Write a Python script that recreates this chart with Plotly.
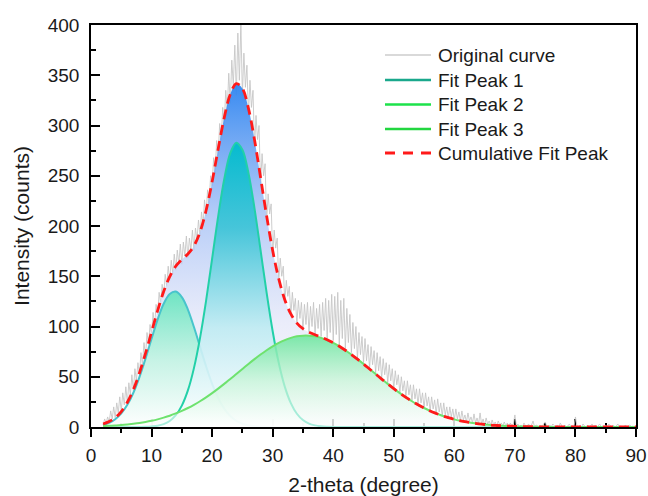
import plotly.graph_objects as go

# ---------------- data ----------------
fit_x = list(range(2, 91))  # 2-theta, degrees, 1-degree steps

peak1 = [0, 0, 0, 0, 0, 0, 0.1, 0.2, 0.6, 1.3, 2.9, 6.0, 11.7, 21.3, 36.4, 58.6, 88.5,
         125.5, 167.4, 209.6, 246.5, 272.5, 282.9, 275.9, 252.8, 217.6, 175.9, 133.7,
         95.3, 63.9, 40.2, 23.8, 13.2, 6.9, 3.4, 1.6, 0.7, 0.3, 0.1] + [0] * 50

peak2 = [2.1, 4.2, 7.7, 13.5, 22.1, 34.1, 49.7, 68.0, 87.8, 106.9, 122.6, 132.4, 134.8,
         129.3, 116.9, 99.5, 79.9, 60.4, 43.0, 28.9, 18.3, 10.9, 6.1, 3.2, 1.6, 0.8,
         0.3, 0.1] + [0] * 61

peak3 = [0.9, 1.2, 1.5, 1.9, 2.5, 3.2, 4.0, 5.0, 6.2, 7.6, 9.3, 11.2, 13.5, 16.0, 18.9,
         22.1, 25.6, 29.5, 33.7, 38.2, 42.9, 47.7, 52.7, 57.7, 62.7, 67.5, 72.1, 76.4,
         80.3, 83.7, 86.5, 88.7, 90.2, 90.9, 90.9, 90.2, 88.7, 86.5, 83.7, 80.3, 76.4,
         72.1, 67.5, 62.7, 57.7, 52.7, 47.7, 42.9, 38.2, 33.7, 29.5, 25.6, 22.1, 18.9,
         16.0, 13.5, 11.2, 9.3, 7.6, 6.2, 5.0, 4.0, 3.2, 2.5, 1.9, 1.5, 1.2, 0.9, 0.7,
         0.5, 0.4, 0.3, 0.2, 0.2, 0.1, 0.1, 0.1, 0.1, 0.1, 0, 0, 0, 0, 0, 0, 0, 0, 0, 0]

cumulative = [3.0, 5.4, 9.2, 15.4, 24.6, 37.3, 53.8, 73.2, 94.6, 115.8, 134.8, 149.6,
              160.0, 166.6, 172.2, 180.2, 194.0, 215.4, 244.1, 276.7, 307.7, 331.1,
              341.7, 336.8, 317.1, 285.9, 248.3, 210.2, 175.6, 147.6, 126.7, 112.5,
              103.4, 97.8, 94.3, 91.8, 89.4, 86.8, 83.8, 80.3, 76.4, 72.1, 67.5, 62.7,
              57.7, 52.7, 47.7, 42.9, 38.2, 33.7, 29.5, 25.6, 22.1, 18.9, 16.0, 13.5,
              11.2, 9.3, 7.6, 6.2, 5.0, 4.0, 3.2, 2.5, 1.9, 1.5, 1.2, 0.9, 0.7, 0.5,
              0.4, 0.3, 0.2, 0.2, 0.1, 0.1, 0.1, 0.1, 0.1, 0, 0, 0, 0, 0, 0, 0, 0, 0, 0]

# original (noisy) curve, 0.25-degree steps from 2 to 90
orig_x = [2 + 0.25 * i for i in range(353)]
orig_y = [2, 8, 4, 10, 5, 16, 8, 20, 9, 24, 14, 30, 16, 34, 22, 40,
          24, 44, 32, 52, 36, 58, 46, 64, 52, 74, 62, 84, 70, 94, 82, 102,
          92, 114, 100, 122, 112, 134, 122, 142, 130, 152, 140, 160, 146, 166, 152, 172,
          156, 176, 162, 182, 162, 184, 170, 190, 168, 188, 176, 196, 176, 198, 186, 206,
          190, 214, 200, 226, 210, 236, 222, 250, 240, 268, 252, 285, 270, 302, 285, 318,
          300, 335, 315, 352, 322, 365, 340, 380, 330, 392, 345, 402, 330, 372, 338, 360,
          310, 345, 318, 335, 278, 310, 286, 300, 240, 272, 250, 262, 204, 232, 212, 222,
          170, 196, 178, 188, 144, 168, 150, 160, 124, 146, 130, 140, 110, 134, 116, 128,
          102, 126, 108, 124, 96, 122, 102, 124, 94, 120, 100, 124, 92, 118, 98, 122,
          90, 124, 96, 128, 88, 126, 94, 132, 86, 130, 92, 134, 82, 126, 88, 128,
          78, 118, 84, 112, 74, 104, 78, 100, 68, 94, 72, 90, 64, 88, 66, 82,
          58, 80, 62, 76, 54, 74, 56, 70, 48, 68, 52, 64, 44, 62, 46, 58,
          38, 56, 42, 52, 34, 50, 36, 46, 30, 46, 32, 42, 26, 42, 28, 38,
          22, 38, 24, 34, 19, 34, 21, 30, 16, 30, 18, 27, 13, 28, 15, 24,
          11, 24, 12, 20, 9, 20, 10, 18, 7, 18, 8, 15, 6, 16, 7, 12,
          5, 14, 6, 10, 4, 13, 4, 9, 3, 14, 3, 8, 2, 9, 3, 6,
          2, 7, 2, 5, 1, 6, 2, 4, 1, 5, 1, 4, 1, 4, 1, 3,
          12, 1, 3, 0, 2, 0, 4, 1, 0, 3, 1, 2, 6, 0, 2, 1,
          0, 2, 0, 3, 5, 1, 0, 2, 0, 3, 1, 0, 2, 0, 4, 1,
          0, 2, 0, 1, 3, 0, 2, 0, 10, 1, 0, 2, 0, 3, 1, 0,
          2, 0, 1, 3, 0, 2, 0, 1, 3, 0, 1, 0, 2, 0, 3, 1,
          0, 2, 0, 1, 3, 0, 1, 0, 0, 2, 0, 1, 2, 0, 1, 0,
          0]

legend_names = ["Original curve", "Fit Peak 1", "Fit Peak 2", "Fit Peak 3",
                "Cumulative Fit Peak"]
x_ticks = list(range(0, 91, 10))
y_ticks = list(range(0, 401, 50))

FONT = "Liberation Sans, Arial, sans-serif"
TXT = "#1a1a1a"

fig = go.Figure()

# original noisy curve
fig.add_trace(go.Scatter(x=orig_x, y=orig_y, mode="lines",
                         line=dict(color="rgba(196,196,196,0.85)", width=1),
                         showlegend=False, hoverinfo="skip"))

# cumulative fill (background)
fig.add_trace(go.Scatter(x=fit_x, y=cumulative, mode="none", fill="tozeroy",
                         line_shape="spline",
                         fillgradient=dict(type="vertical", start=0, stop=342,
                                           colorscale=[[0, "rgba(246,246,250,0.55)"],
                                                       [0.3, "rgba(226,229,248,0.7)"],
                                                       [0.6, "rgba(170,196,246,0.82)"],
                                                       [1, "rgba(45,132,240,0.95)"]]),
                         showlegend=False, hoverinfo="skip"))

# peak 2
fig.add_trace(go.Scatter(x=fit_x, y=peak2, mode="lines", fill="tozeroy",
                         line=dict(color="#48c4cc", width=2, shape="spline"),
                         fillgradient=dict(type="vertical", start=0, stop=135,
                                           colorscale=[[0, "rgba(255,255,255,0.85)"],
                                                       [0.5, "rgba(190,243,225,0.85)"],
                                                       [1, "rgba(100,228,190,0.92)"]]),
                         showlegend=False, hoverinfo="skip"))

# peak 1
fig.add_trace(go.Scatter(x=fit_x, y=peak1, mode="lines", fill="tozeroy",
                         line=dict(color="#22d0a8", width=2, shape="spline"),
                         fillgradient=dict(type="vertical", start=0, stop=283,
                                           colorscale=[[0, "rgba(255,255,255,0.9)"],
                                                       [0.35, "rgba(190,235,242,0.9)"],
                                                       [0.7, "rgba(60,196,215,0.92)"],
                                                       [1, "rgba(0,188,205,0.95)"]]),
                         showlegend=False, hoverinfo="skip"))

# peak 3
fig.add_trace(go.Scatter(x=fit_x, y=peak3, mode="lines", fill="tozeroy",
                         line=dict(color="#6ee26e", width=2, shape="spline"),
                         fillgradient=dict(type="vertical", start=0, stop=91,
                                           colorscale=[[0, "rgba(255,255,255,0.6)"],
                                                       [0.5, "rgba(200,245,215,0.75)"],
                                                       [1, "rgba(110,230,160,0.9)"]]),
                         showlegend=False, hoverinfo="skip"))

# cumulative dashed line
fig.add_trace(go.Scatter(x=fit_x, y=cumulative, mode="lines",
                         line=dict(color="#ff1a1a", width=2.8, dash="10px,6px",
                                   shape="spline"),
                         showlegend=False, hoverinfo="skip"))

# second x axis for the inside half of the crossing ticks
fig.add_trace(go.Scatter(x=[None], y=[None], xaxis="x2", showlegend=False))

# ---- legend (drawn in paper coordinates) ----
leg_styles = [dict(color="#d9d9d9", width=2),
              dict(color="#1aa88c", width=2.5),
              dict(color="#1de24a", width=2.5),
              dict(color="#22d640", width=2.5),
              dict(color="#ff1a1a", width=2.8, dash="10px,8px")]
PL, PR, PT, PB = 91, 636, 25, 427


def px2paper(px, py):
    return (px - PL) / (PR - PL), (PB - py) / (PB - PT)


rows = [55, 80, 104.5, 129, 153]
shapes = []
annotations = []
for name, st, ry in zip(legend_names, leg_styles, rows):
    x0, y0 = px2paper(385, ry)
    x1, _ = px2paper(431, ry)
    shapes.append(dict(type="line", xref="paper", yref="paper", x0=x0, x1=x1,
                       y0=y0, y1=y0, line=st, layer="above"))
    tx, _ = px2paper(436, ry)
    annotations.append(dict(text=name, xref="paper", yref="paper", x=tx, y=y0,
                            xanchor="left", yanchor="middle", showarrow=False,
                            font=dict(family=FONT, size=19, color=TXT)))

fig.update_layout(
    width=648, height=496,
    margin=dict(l=PL, r=648 - PR, t=PT, b=496 - PB, autoexpand=False),
    plot_bgcolor="white", paper_bgcolor="white",
    font=dict(family=FONT, size=19, color=TXT),
    showlegend=False,
    shapes=shapes, annotations=annotations,
    xaxis=dict(range=[0, 90], tickvals=x_ticks, ticks="outside", ticklen=8,
               tickwidth=1.6, tickcolor="black", automargin=False,
               minor=dict(dtick=5, ticks="outside", ticklen=4, tickwidth=1.6,
                          tickcolor="black"),
               showline=True, linecolor="black", linewidth=1.6, mirror=True,
               showgrid=False, zeroline=False, ticklabelstandoff=2,
               title=dict(text="2-theta (degree)", font=dict(size=21), standoff=16)),
    xaxis2=dict(range=[0, 90], overlaying="x", anchor="y", side="bottom",
                tickvals=x_ticks, ticks="inside", ticklen=8, tickwidth=1.6,
                tickcolor="black", showticklabels=False, showline=False,
                automargin=False,
                minor=dict(dtick=5, ticks="inside", ticklen=4, tickwidth=1.6,
                           tickcolor="black"),
                showgrid=False, zeroline=False, layer="below traces"),
    yaxis=dict(range=[0, 400], tickvals=y_ticks, ticks="inside", ticklen=9,
               tickwidth=1.6, tickcolor="black", automargin=False,
               minor=dict(dtick=25, ticks="inside", ticklen=5, tickwidth=1.6,
                          tickcolor="black"),
               showline=True, linecolor="black", linewidth=1.6, mirror=True,
               showgrid=False, zeroline=False, ticklabelstandoff=6,
               title=dict(text="Intensity (counts)", font=dict(size=21), standoff=12)),
)

fig.write_html("out.html", config={"displayModeBar": False},
               post_script="document.body.style.margin='0';")
